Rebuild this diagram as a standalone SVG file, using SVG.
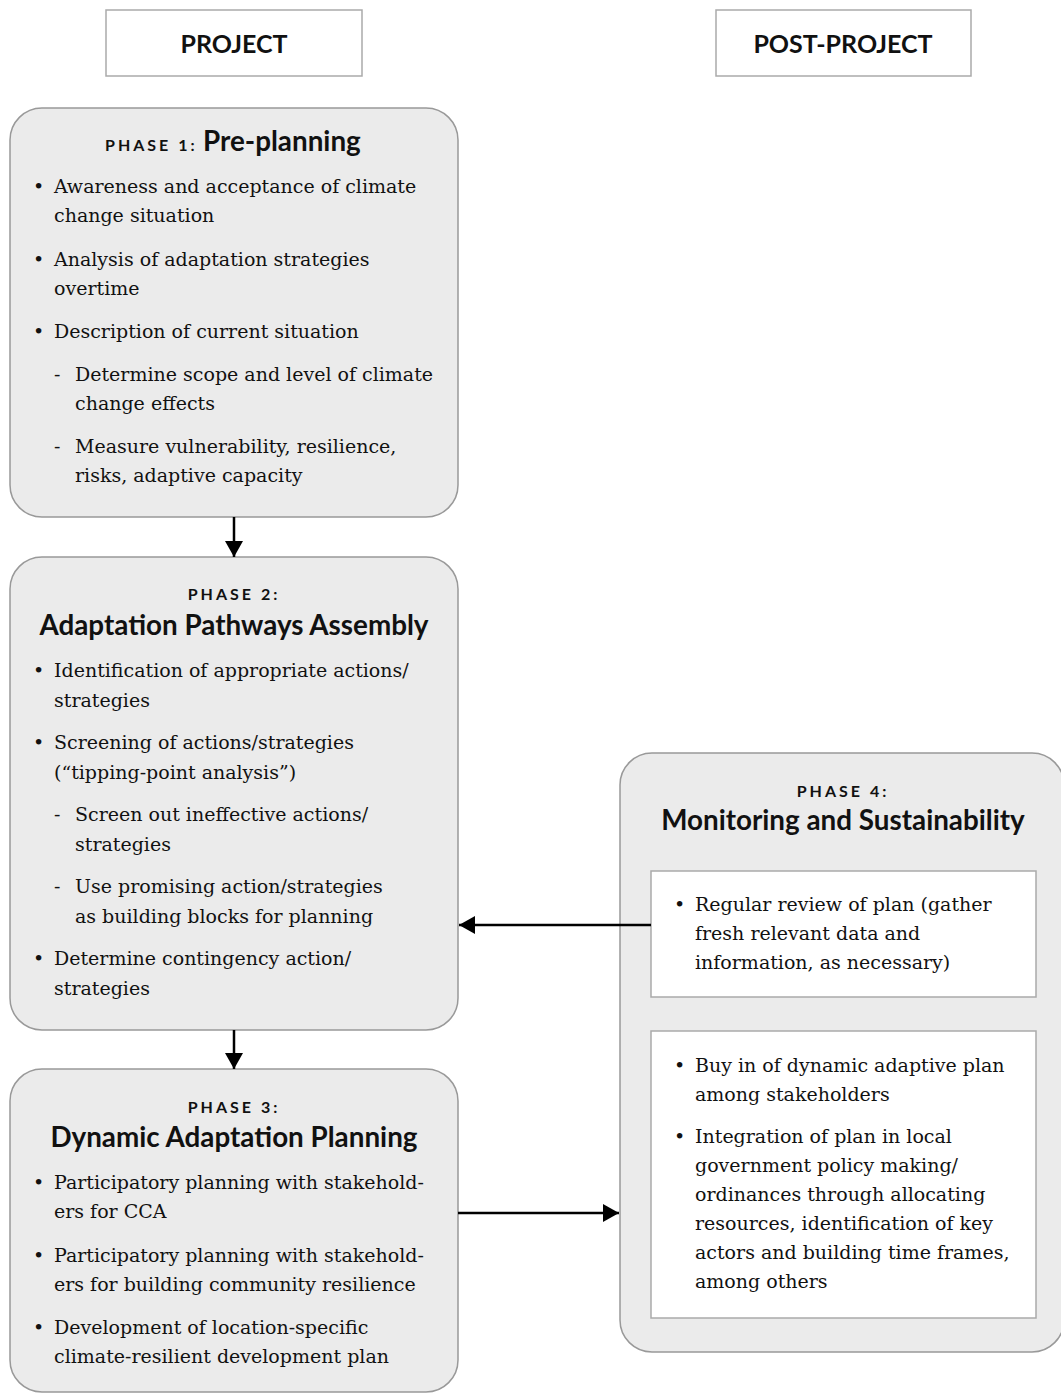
<svg xmlns="http://www.w3.org/2000/svg" width="1061" height="1393" viewBox="0 0 1061 1393">
<style>
.hdr{fill:#fff;stroke:#aaa;stroke-width:1.5}
.phase{fill:#ebebeb;stroke:#999;stroke-width:1.5}
.inner{fill:#fff;stroke:#aaa;stroke-width:1.5}
.hdrt{font-family:Lato,"Liberation Sans",sans-serif;font-weight:bold;font-size:25px;fill:#111;text-anchor:middle}
.ph{font-family:Lato,"Liberation Sans",sans-serif;font-weight:bold;font-size:16px;letter-spacing:3px;fill:#111;text-anchor:middle}
.ttl{font-family:Lato,"Liberation Sans",sans-serif;font-weight:bold;font-size:27.8px;fill:#111;text-anchor:middle}
.b{font-family:"DejaVu Serif","Liberation Serif",serif;font-size:19px;fill:#111}
.conn{stroke:#000;stroke-width:2.5;fill:none}
</style>
<defs>
<marker id="ah" markerUnits="userSpaceOnUse" markerWidth="20" markerHeight="20" viewBox="0 0 20 20" refX="18" refY="10" orient="auto">
<path d="M2,1 L18,10 L2,19 Z" fill="#000"/>
</marker>
</defs>

<g id="header-project">
<rect class="hdr" x="106" y="10" width="256" height="66"/>
<text class="hdrt" x="234" y="53">PROJECT</text>
</g>
<g id="header-post-project">
<rect class="hdr" x="716" y="10" width="255" height="66"/>
<text class="hdrt" x="843" y="53">POST-PROJECT</text>
</g>

<g id="phase1">
<rect class="phase" x="10" y="108" width="448" height="409" rx="32"/>
<text class="ph" x="105" y="151" style="text-anchor:start">PHASE 1:</text>
<text class="ttl" x="203" y="151" style="text-anchor:start">Pre-planning</text>
<g class="b">
<text x="33" y="193">•</text><text x="54" y="193">Awareness and acceptance of climate</text>
<text x="54" y="222">change situation</text>
<text x="33" y="266">•</text><text x="54" y="266">Analysis of adaptation strategies</text>
<text x="54" y="295">overtime</text>
<text x="33" y="338">•</text><text x="54" y="338">Description of current situation</text>
<text x="54" y="381">-</text><text x="75" y="381">Determine scope and level of climate</text>
<text x="75" y="410">change effects</text>
<text x="54" y="453">-</text><text x="75" y="453">Measure vulnerability, resilience,</text>
<text x="75" y="482">risks, adaptive capacity</text>
</g>
</g>

<g id="phase2">
<rect class="phase" x="10" y="557" width="448" height="473" rx="32"/>
<text class="ph" x="234" y="600">PHASE 2:</text>
<text class="ttl" x="234" y="635">Adaptation Pathways Assembly</text>
<g class="b">
<text x="33" y="677">•</text><text x="54" y="677">Identification of appropriate actions/</text>
<text x="54" y="707">strategies</text>
<text x="33" y="749">•</text><text x="54" y="749">Screening of actions/strategies</text>
<text x="54" y="779">(“tipping-point analysis”)</text>
<text x="54" y="821">-</text><text x="75" y="821">Screen out ineffective actions/</text>
<text x="75" y="851">strategies</text>
<text x="54" y="893">-</text><text x="75" y="893">Use promising action/strategies</text>
<text x="75" y="923">as building blocks for planning</text>
<text x="33" y="965">•</text><text x="54" y="965">Determine contingency action/</text>
<text x="54" y="995">strategies</text>
</g>
</g>

<g id="phase3">
<rect class="phase" x="10" y="1069" width="448" height="323" rx="32"/>
<text class="ph" x="234" y="1113">PHASE 3:</text>
<text class="ttl" x="234" y="1147">Dynamic Adaptation Planning</text>
<g class="b">
<text x="33" y="1189">•</text><text x="54" y="1189">Participatory planning with stakehold-</text>
<text x="54" y="1218">ers for CCA</text>
<text x="33" y="1262">•</text><text x="54" y="1262">Participatory planning with stakehold-</text>
<text x="54" y="1291">ers for building community resilience</text>
<text x="33" y="1334">•</text><text x="54" y="1334">Development of location-specific</text>
<text x="54" y="1363">climate-resilient development plan</text>
</g>
</g>

<g id="phase4">
<rect class="phase" x="620" y="753" width="444" height="599" rx="32"/>
<text class="ph" x="843" y="797">PHASE 4:</text>
<text class="ttl" x="843" y="830">Monitoring and Sustainability</text>
<rect class="inner" x="651" y="871" width="385" height="126"/>
<g class="b">
<text x="674" y="911">•</text><text x="695" y="911">Regular review of plan (gather</text>
<text x="695" y="940">fresh relevant data and</text>
<text x="695" y="969">information, as necessary)</text>
</g>
<rect class="inner" x="651" y="1031" width="385" height="287"/>
<g class="b">
<text x="674" y="1072">•</text><text x="695" y="1072">Buy in of dynamic adaptive plan</text>
<text x="695" y="1101">among stakeholders</text>
<text x="674" y="1143">•</text><text x="695" y="1143">Integration of plan in local</text>
<text x="695" y="1172">government policy making/</text>
<text x="695" y="1201">ordinances through allocating</text>
<text x="695" y="1230">resources, identification of key</text>
<text x="695" y="1259">actors and building time frames,</text>
<text x="695" y="1288">among others</text>
</g>
</g>

<g id="connectors">
<line class="conn" x1="234" y1="517" x2="234" y2="557" marker-end="url(#ah)"/>
<line class="conn" x1="234" y1="1030" x2="234" y2="1069" marker-end="url(#ah)"/>
<line class="conn" x1="651" y1="925" x2="459" y2="925" marker-end="url(#ah)"/>
<line class="conn" x1="458" y1="1213" x2="619" y2="1213" marker-end="url(#ah)"/>
</g>
</svg>
